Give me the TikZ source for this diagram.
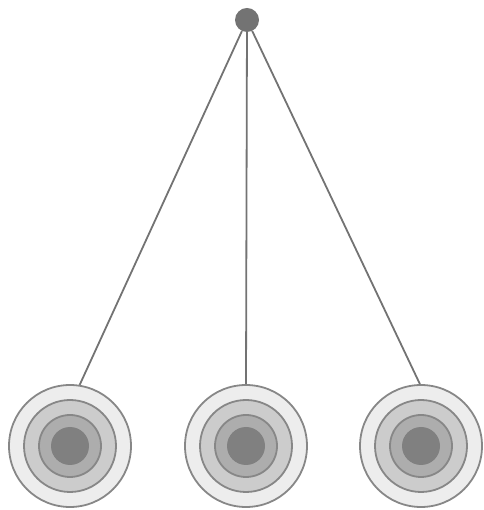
\documentclass[tikz,border=0pt]{standalone}
\begin{document}
\begin{tikzpicture}[x=1pt,y=1pt,
  ringline/.style={draw=black!47,line width=1.8pt},
  ring1/.style={circle,ringline,fill=black!7,minimum size=122pt,inner sep=0pt},
  ring2/.style={circle,ringline,fill=black!20,minimum size=92pt,inner sep=0pt},
  ring3/.style={circle,ringline,fill=black!32,minimum size=62pt,inner sep=0pt},
  ring4/.style={circle,draw=none,fill=black!50,minimum size=38pt,inner sep=0pt},
  hub/.style={circle,fill=black!55,minimum size=24pt,inner sep=0pt},
  link/.style={draw=black!55,line width=1.8pt}]
\useasboundingbox (0,0) rectangle (483,510);
\node[hub] (top) at (247,490) {};
\foreach \n/\x/\ang in {a/70/81,b/246/90,c/421/91}{
  \node[ring1] (\n1) at (\x,64) {};
  \node[ring2] (\n2) at (\x,64) {};
  \node[ring3] (\n3) at (\x,64) {};
  \node[ring4] (\n4) at (\x,64) {};
  \draw[link] (top) -- (\n1.\ang);
}
\end{tikzpicture}
\end{document}
